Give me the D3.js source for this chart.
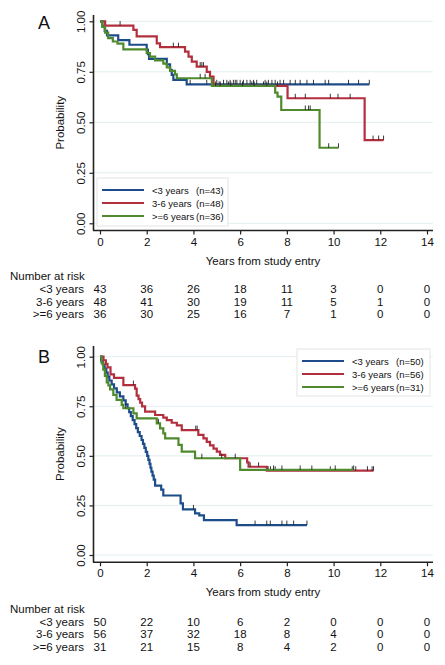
<!DOCTYPE html>
<html><head><meta charset="utf-8">
<script src="https://cdn.jsdelivr.net/npm/d3@7"></script>
<style>body{margin:0;background:#fff}svg{display:block}text{font-family:"Liberation Sans",Arial,sans-serif;fill:#111}</style>
</head><body><svg id="c" width="445" height="665"></svg>
<script>
// ---------- shared ----------
const xTicks = [0, 2, 4, 6, 8, 10, 12, 14];
const yTicks = [0, 0.25, 0.5, 0.75, 1];
const groups = ["<3 years", "3-6 years", ">=6 years"];
const colors = ["#1d4c8a", "#b22f3e", "#4f8a2e"];

// ---------- panel A ----------
const nA = [43, 48, 36];
const riskA_lt3 = [43, 36, 26, 18, 11, 3, 0, 0];
const riskA_3to6 = [48, 41, 30, 19, 11, 5, 1, 0];
const riskA_ge6 = [36, 30, 25, 16, 7, 1, 0, 0];

const aLt3T = [0.1, 0.2, 0.3, 0.78, 1.26, 2.0, 2.05, 2.1, 2.86, 3.0, 3.07, 3.14, 3.71];
const aLt3S = [0.977, 0.953, 0.930, 0.907, 0.884, 0.860, 0.837, 0.814, 0.787, 0.760, 0.735, 0.710, 0.688];
const aLt3C = [3.86, 4.57, 5.0, 5.29, 5.43, 5.57, 5.71, 5.79, 5.86, 6.0, 6.14, 6.29, 6.43, 6.57, 6.71, 7.07, 7.21, 7.36, 7.5, 7.71, 7.86, 8.14, 8.36, 8.57, 8.86, 9.14, 9.64, 9.79, 10.64, 11.07, 11.53];

const a36T = [0.22, 1.43, 1.57, 2.43, 2.57, 3.64, 3.79, 3.93, 4.14, 4.57, 4.71, 4.86, 8.03, 11.33];
const a36S = [0.979, 0.958, 0.925, 0.891, 0.872, 0.85, 0.825, 0.80, 0.776, 0.75, 0.726, 0.68, 0.619, 0.412];
const a36C = [0.86, 3.14, 3.36, 4.29, 4.36, 4.43, 5.1, 5.5, 6.5, 7.0, 7.6, 8.36, 8.79, 9.86, 10.19, 10.71, 11.69, 11.93, 12.14];

const aGe6T = [0.1, 0.22, 0.35, 0.55, 0.75, 1.0, 2.0, 2.14, 2.36, 2.71, 2.86, 3.0, 3.21, 3.29, 4.79, 7.5, 7.6, 7.76, 9.4];
const aGe6S = [0.972, 0.944, 0.917, 0.9, 0.889, 0.861, 0.843, 0.825, 0.807, 0.79, 0.772, 0.755, 0.737, 0.718, 0.680, 0.647, 0.627, 0.561, 0.374];
const aGe6C = [4.29, 4.5, 4.95, 5.15, 5.6, 6.1, 6.6, 7.14, 8.79, 8.93, 9.0, 9.79, 10.21];

// ---------- panel B ----------
const nB = [50, 56, 31];
const riskB_lt3 = [50, 22, 10, 6, 2, 0, 0, 0];
const riskB_3to6 = [56, 37, 32, 18, 8, 4, 0, 0];
const riskB_ge6 = [31, 21, 15, 8, 4, 2, 0, 0];

const bLt3T = [0.05, 0.12, 0.2, 0.27, 0.33, 0.4, 0.5, 0.6, 0.72, 0.85, 1.0, 1.1, 1.18, 1.25, 1.32, 1.4, 1.48, 1.55, 1.62, 1.7, 1.78, 1.84, 1.9, 1.96, 2.02, 2.07, 2.12, 2.16, 2.2, 2.25, 2.3, 2.36, 2.62, 2.71, 3.45, 3.55, 4.07, 4.25, 4.45, 5.85];
const bLt3S = [0.98, 0.96, 0.94, 0.92, 0.90, 0.88, 0.86, 0.84, 0.82, 0.80, 0.78, 0.76, 0.74, 0.72, 0.70, 0.68, 0.66, 0.64, 0.62, 0.60, 0.58, 0.56, 0.54, 0.52, 0.50, 0.48, 0.46, 0.44, 0.42, 0.40, 0.38, 0.35, 0.33, 0.30, 0.26, 0.23, 0.21, 0.20, 0.176, 0.151];
const bLt3C = [4.0, 6.64, 7.14, 7.29, 7.79, 8.0, 8.29, 8.86];

const b36T = [0.15, 0.25, 0.32, 0.45, 0.6, 1.0, 1.5, 1.57, 1.65, 1.72, 1.8, 1.93, 2.36, 2.71, 2.86, 3.07, 3.29, 3.5, 4.21, 4.43, 4.57, 4.71, 4.86, 5.0, 5.14, 5.36, 6.3, 6.36, 7.14];
const b36S = [0.982, 0.964, 0.946, 0.911, 0.893, 0.857, 0.839, 0.804, 0.786, 0.768, 0.750, 0.723, 0.706, 0.693, 0.680, 0.667, 0.654, 0.630, 0.606, 0.588, 0.570, 0.553, 0.536, 0.521, 0.505, 0.488, 0.467, 0.445, 0.425];
const b36C = [1.43, 4.1, 4.16, 6.43, 6.79, 7.2, 7.3, 7.5, 9.86, 10.8, 10.95, 11.45, 11.65, 11.71];

const bGe6T = [0.07, 0.14, 0.21, 0.29, 0.36, 0.43, 0.57, 0.71, 0.93, 1.0, 1.43, 1.57, 2.43, 2.57, 2.71, 2.79, 3.36, 3.5, 4.07, 6.0];
const bGe6S = [0.968, 0.935, 0.903, 0.871, 0.855, 0.835, 0.807, 0.782, 0.757, 0.740, 0.714, 0.689, 0.664, 0.639, 0.613, 0.588, 0.555, 0.521, 0.488, 0.429];
const bGe6C = [1.1, 2.5, 4.36, 5.21, 5.79, 7.43, 7.79, 8.57, 9.07, 10.07, 10.86];

// ---------- drawing ----------
const FS = 11.5;
const svg = d3.select("#c");
const x = d3.scaleLinear().domain([0, 14]).range([100, 427]);

function panel(cfg) {
  const y = d3.scaleLinear().domain([0, 1]).range([cfg.y0, cfg.y1]);
  const g = svg.append("g");
  // grid
  g.selectAll(".grid").data(yTicks).join("line")
    .attr("x1", 94).attr("x2", 433).attr("y1", d => y(d)).attr("y2", d => y(d))
    .attr("stroke", "#e3eef1").attr("stroke-width", 1);
  // y axis
  const yAxis = d3.axisLeft(y).tickValues(yTicks).tickFormat(d3.format(".2f")).tickSize(4).tickSizeOuter(0);
  const ya = g.append("g").attr("transform", "translate(93.5,0)").call(yAxis);
  ya.attr("font-family", null).attr("font-size", null);
  ya.select(".domain").attr("d", `M0,${cfg.top}V${cfg.axisY}`).attr("stroke", "#222").attr("stroke-width", 1.6);
  ya.selectAll(".tick line").attr("stroke", "#222").attr("stroke-width", 1.2);
  ya.selectAll(".tick text").attr("font-size", FS).attr("fill", "#222").attr("dy", null)
    .attr("text-anchor", "middle").attr("transform", "rotate(-90)").attr("x", 0).attr("y", -9);
  // x axis
  const xAxis = d3.axisBottom(x).tickValues(xTicks).tickSize(4).tickSizeOuter(0);
  const xa = g.append("g").attr("transform", `translate(0,${cfg.axisY})`).call(xAxis);
  xa.attr("font-family", null).attr("font-size", null);
  xa.select(".domain").attr("d", "M93,0H433").attr("stroke", "#222").attr("stroke-width", 1.6);
  xa.selectAll(".tick line").attr("stroke", "#222").attr("stroke-width", 1.2);
  xa.selectAll(".tick text").attr("font-size", FS).attr("fill", "#222").attr("y", 7);
  // titles
  g.append("text").attr("x", 263).attr("y", cfg.axisY + 34).attr("text-anchor", "middle").attr("font-size", FS).text("Years from study entry");
  g.append("text").attr("transform", `translate(64,${(cfg.top + cfg.axisY) / 2}) rotate(-90)`).attr("text-anchor", "middle").attr("font-size", FS).text("Probability");
  g.append("text").attr("x", 38).attr("y", cfg.letterY).attr("font-size", 18).text(cfg.letter);
  // curves
  const line = d3.line().x(d => x(d[0])).y(d => y(d[1])).curve(d3.curveStepAfter);
  cfg.curves.forEach((c, i) => {
    const end = Math.max(d3.max(c.T), d3.max(c.C));
    const pts = [[0, 1]].concat(c.T.map((t, k) => [t, c.S[k]]));
    pts.push([end, c.S[c.S.length - 1]]);
    g.append("path").attr("d", line(pts)).attr("fill", "none").attr("stroke", colors[i]).attr("stroke-width", 2.2);
    const sAt = t => { let s = 1; c.T.forEach((tt, k) => { if (tt <= t) s = c.S[k]; }); return s; };
    g.selectAll(null).data(c.C).join("line")
      .attr("x1", d => x(d)).attr("x2", d => x(d)).attr("y1", d => y(sAt(d))).attr("y2", d => y(sAt(d)) - 4.5)
      .attr("stroke", "#222").attr("stroke-width", 0.9);
  });
  // legend
  const L = cfg.legend;
  g.append("rect").attr("x", L.x).attr("y", L.y).attr("width", L.w).attr("height", L.h)
    .attr("fill", "#fff").attr("stroke", "#e4e4e4").attr("stroke-width", 1);
  groups.forEach((name, i) => {
    const yy = L.y + 12 + i * 13;
    g.append("line").attr("x1", L.x + 5).attr("x2", L.x + 47).attr("y1", yy).attr("y2", yy).attr("stroke", colors[i]).attr("stroke-width", 2.2);
    g.append("text").attr("x", L.x + 55).attr("y", yy + 3.5).attr("font-size", 9.5).text(name);
    g.append("text").attr("x", L.x + L.nx).attr("y", yy + 3.5).attr("font-size", 9.5).text(`(n=${cfg.n[i]})`);
  });
  // risk table
  g.append("text").attr("x", 10).attr("y", cfg.riskY).attr("font-size", FS).text("Number at risk");
  cfg.risk.forEach((row, r) => {
    const yy = cfg.riskY + 13 + r * 12.7;
    g.append("text").attr("x", 84).attr("y", yy).attr("text-anchor", "end").attr("font-size", FS).text(groups[r]);
    g.selectAll(null).data(row).join("text")
      .attr("x", (d, k) => x(xTicks[k])).attr("y", yy).attr("text-anchor", "middle").attr("font-size", FS).text(d => d);
  });
}

panel({
  letter: "A", letterY: 29, top: 15, axisY: 230.5, y0: 223.3, y1: 21.3, riskY: 280,
  n: nA,
  legend: { x: 97, y: 178, w: 131, h: 48, nx: 99 },
  risk: [riskA_lt3, riskA_3to6, riskA_ge6],
  curves: [{ T: aLt3T, S: aLt3S, C: aLt3C }, { T: a36T, S: a36S, C: a36C }, { T: aGe6T, S: aGe6S, C: aGe6C }]
});
panel({
  letter: "B", letterY: 363, top: 346, axisY: 562.3, y0: 555, y1: 356.7, riskY: 612.5,
  n: nB,
  legend: { x: 297, y: 349, w: 133, h: 47, nx: 99 },
  risk: [riskB_lt3, riskB_3to6, riskB_ge6],
  curves: [{ T: bLt3T, S: bLt3S, C: bLt3C }, { T: b36T, S: b36S, C: b36C }, { T: bGe6T, S: bGe6S, C: bGe6C }]
});
</script></body></html>
